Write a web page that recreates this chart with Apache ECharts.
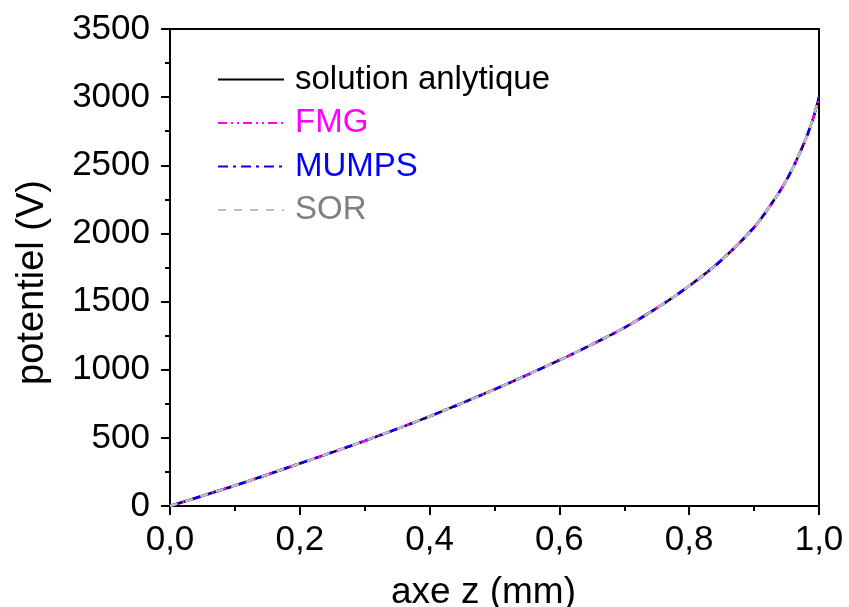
<!DOCTYPE html>
<html>
<head>
<meta charset="utf-8">
<script src="https://cdn.jsdelivr.net/npm/echarts@6/dist/echarts.min.js"></script>
<style>
html,body{margin:0;padding:0;background:#fff;}
#c{width:849px;height:607px;}
</style>
</head>
<body>
<div id="c"></div>
<script>
// Data
var zValues = [0, 0.1, 0.2, 0.3, 0.4, 0.5, 0.6, 0.65, 0.7, 0.75, 0.8, 0.85, 0.9, 0.925, 0.95, 0.975, 0.99, 1.0];
var solutionAnalytique = [0, 150, 312, 478, 658, 855, 1070, 1185, 1308, 1452, 1615, 1805, 2045, 2205, 2392, 2640, 2830, 3000];
var fmgValues = [0, 150, 312, 478, 658, 855, 1070, 1185, 1308, 1452, 1615, 1805, 2045, 2205, 2392, 2640, 2830, 3000];
var mumpsValues = [0, 150, 312, 478, 658, 855, 1070, 1185, 1308, 1452, 1615, 1805, 2045, 2205, 2392, 2640, 2830, 3000];
var sorValues = [0, 150, 312, 478, 658, 855, 1070, 1185, 1308, 1452, 1615, 1805, 2045, 2205, 2392, 2640, 2830, 3000];
var seriesNames = ['solution anlytique', 'FMG', 'MUMPS', 'SOR'];
var xTickLabels = ['0,0', '0,2', '0,4', '0,6', '0,8', '1,0'];

function pairs(vals) {
  return zValues.map(function (z, i) { return [z, vals[i]]; });
}

var FONT = '"Liberation Sans", Arial, sans-serif';
var chart = echarts.init(document.getElementById('c'), null, {renderer: 'canvas'});

var axisLineStyle = {color: '#000', width: 2};

chart.setOption({
  animation: false,
  backgroundColor: '#fff',
  grid: {left: 170, right: 30, top: 29, bottom: 101, containLabel: false, outerBoundsMode: 'none'},
  legend: {
    orient: 'vertical',
    left: 217,
    top: 63,
    padding: 0,
    itemWidth: 66,
    itemHeight: 14,
    itemGap: 10.5,
    itemStyle: {opacity: 0},
    textStyle: {fontFamily: FONT, fontSize: 33, lineHeight: 32, padding: [0, 0, 0, 6]},
    data: [
      {name: seriesNames[0], textStyle: {color: '#000000'}},
      {name: seriesNames[1], textStyle: {color: '#ff00ff'}},
      {name: seriesNames[2], textStyle: {color: '#0000ff'}},
      {name: seriesNames[3], textStyle: {color: '#808080'}}
    ]
  },
  xAxis: [{
    type: 'value', min: 0, max: 1, interval: 0.2,
    name: 'axe z (mm)', nameLocation: 'middle', nameGap: 68,
    nameTextStyle: {fontFamily: FONT, fontSize: 37, color: '#000', padding: [0, 22, 0, 0]},
    axisLine: {show: true, onZero: false, lineStyle: axisLineStyle},
    axisTick: {show: true, inside: false, length: 9, lineStyle: {color: '#000', width: 2}},
    minorTick: {show: true, splitNumber: 2, length: 5, lineStyle: {color: '#000', width: 2}},
    splitLine: {show: false},
    axisLabel: {
      fontFamily: FONT, fontSize: 35, color: '#000', margin: 17,
      formatter: function (v) { return xTickLabels[Math.round(v / 0.2)]; }
    }
  }, {
    type: 'value', min: 0, max: 1, interval: 0.2, position: 'top',
    axisLine: {show: true, onZero: false, lineStyle: axisLineStyle},
    axisTick: {show: false}, axisLabel: {show: false}, splitLine: {show: false}
  }],
  yAxis: [{
    type: 'value', min: 0, max: 3500, interval: 500,
    name: 'potentiel (V)', nameLocation: 'middle', nameGap: 118,
    nameTextStyle: {fontFamily: FONT, fontSize: 38, color: '#000', padding: [0, 30, 0, 0]},
    axisLine: {show: true, onZero: false, lineStyle: axisLineStyle},
    axisTick: {show: true, inside: false, length: 9, lineStyle: {color: '#000', width: 2}},
    minorTick: {show: true, splitNumber: 2, length: 5, lineStyle: {color: '#000', width: 2}},
    splitLine: {show: false},
    axisLabel: {fontFamily: FONT, fontSize: 35, color: '#000', margin: 20,
      formatter: function (v) { return String(v); }}
  }, {
    type: 'value', min: 0, max: 3500, interval: 500, position: 'right',
    axisLine: {show: true, onZero: false, lineStyle: axisLineStyle},
    axisTick: {show: false}, axisLabel: {show: false}, splitLine: {show: false}
  }],
  series: [
    {name: seriesNames[0], type: 'line', data: pairs(solutionAnalytique), smooth: 0.35, symbol: 'none',
     lineStyle: {color: '#000000', width: 2.5, type: 'solid'}, itemStyle: {color: '#000000'}},
    {name: seriesNames[1], type: 'line', data: pairs(fmgValues), smooth: 0.35, symbol: 'none',
     lineStyle: {color: '#ff00ff', width: 2.5, type: [9, 4, 2, 4, 2, 4]}, itemStyle: {color: '#ff00ff'}},
    {name: seriesNames[2], type: 'line', data: pairs(mumpsValues), smooth: 0.35, symbol: 'none',
     lineStyle: {color: '#0000ff', width: 2.5, type: [10, 5, 3, 5]}, itemStyle: {color: '#0000ff'}},
    {name: seriesNames[3], type: 'line', data: pairs(sorValues), smooth: 0.35, symbol: 'none',
     lineStyle: {color: '#c0c0c0', width: 2.5, type: [8, 8]}, itemStyle: {color: '#c0c0c0'}}
  ]
});
</script>
</body>
</html>
